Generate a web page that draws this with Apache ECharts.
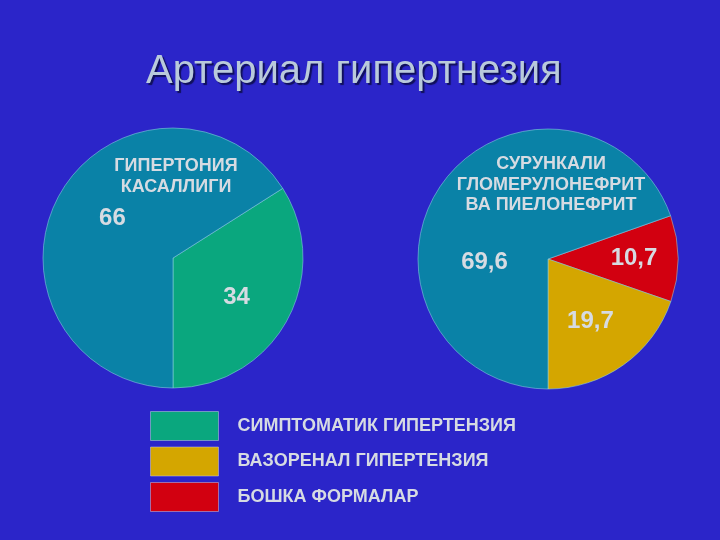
<!DOCTYPE html>
<html><head><meta charset="utf-8">
<script src="https://cdn.jsdelivr.net/npm/echarts@6/dist/echarts.min.js"></script>
<style>html,body{margin:0;padding:0;background:#2b25c9}#c{width:720px;height:540px}</style>
</head><body><div id="c"></div>
<script>
// Data
const titleText = 'Артериал гипертнезия';
const leftNames = ['СИМПТОМАТИК ГИПЕРТЕНЗИЯ', 'ГИПЕРТОНИЯ КАСАЛЛИГИ'];
const leftValues = [34, 66];
const leftLabels = ['34', '66'];
const rightNames = ['БОШКА ФОРМАЛАР', 'ВАЗОРЕНАЛ ГИПЕРТЕНЗИЯ', 'СУРУНКАЛИ ГЛОМЕРУЛОНЕФРИТ ВА ПИЕЛОНЕФРИТ'];
const rightValues = [10.7, 19.7, 69.6];
const rightLabels = ['10,7', '19,7', '69,6'];
const legendNames = ['СИМПТОМАТИК ГИПЕРТЕНЗИЯ', 'ВАЗОРЕНАЛ ГИПЕРТЕНЗИЯ', 'БОШКА ФОРМАЛАР'];
const leftCaption = ['ГИПЕРТОНИЯ', 'КАСАЛЛИГИ'];
const rightCaption = ['СУРУНКАЛИ', 'ГЛОМЕРУЛОНЕФРИТ', 'ВА ПИЕЛОНЕФРИТ'];

// Styles
const colors = {
  'СИМПТОМАТИК ГИПЕРТЕНЗИЯ': '#0aa77e',
  'ГИПЕРТОНИЯ КАСАЛЛИГИ': '#0a82a7',
  'БОШКА ФОРМАЛАР': '#d20010',
  'ВАЗОРЕНАЛ ГИПЕРТЕНЗИЯ': '#d4a600',
  'СУРУНКАЛИ ГЛОМЕРУЛОНЕФРИТ ВА ПИЕЛОНЕФРИТ': '#0a82a7'
};
const leftOffsets = [[4, 7], [-1, -7]];
const rightOffsets = [[18, 0], [3, 7], [-8, 43]];
const textColor = '#d6dbe2';
const font = 'Liberation Sans, Arial, sans-serif';

function sum(a){return a.reduce((s,v)=>s+v,0);}
function build(names, values, labels, offsets){
  return names.map((n,i)=>({
    name:n, value:values[i],
    itemStyle:{color:colors[n]},
    label:{formatter:labels[i], offset:offsets[i]}
  }));
}
// start angle so the last (teal) slice ends at 6 o'clock
const leftStart = -90 + 360 * leftValues[0] / sum(leftValues);
const rightStart = -90 + 360 * (rightValues[0] + rightValues[1]) / sum(rightValues);

const pieCommon = {
  type:'pie', radius:130, clockwise:true, silent:true,
  itemStyle:{borderColor:'rgba(140,210,225,0.55)', borderWidth:1},
  label:{show:true, position:'inside', color:textColor, fontFamily:font, fontWeight:'bold', fontSize:24},
  labelLine:{show:false}, emphasis:{disabled:true}
};

const chart = echarts.init(document.getElementById('c'), null, {renderer:'canvas'});
chart.setOption({
  backgroundColor:'#2b25c9',
  animation:false,
  title:{
    text:titleText, left:141, top:47,
    textStyle:{color:'#b9cadb', fontFamily:font, fontWeight:'normal', fontSize:40,
      textShadowColor:'#10105a', textShadowOffsetX:2, textShadowOffsetY:2, textShadowBlur:1}
  },
  legend:{
    orient:'vertical', left:150, top:411, padding:0,
    data:legendNames, icon:'rect', itemWidth:68, itemHeight:29, itemGap:5.5,
    itemStyle:{borderColor:'rgba(200,200,230,0.5)', borderWidth:1},
    textStyle:{color:textColor, fontFamily:font, fontWeight:'bold', fontSize:18, padding:[0,0,0,14]},
    selectedMode:false
  },
  series:[
    Object.assign({}, pieCommon, {center:[173,258], startAngle:leftStart,
      data:build(leftNames, leftValues, leftLabels, leftOffsets)}),
    Object.assign({}, pieCommon, {center:[548,259], startAngle:rightStart,
      data:build(rightNames, rightValues, rightLabels, rightOffsets)})
  ],
  graphic:[
    {type:'text', z:100, x:176, y:177, style:{text:leftCaption.join('\n'), fill:textColor, font:'bold 18px '+font,
      align:'center', verticalAlign:'middle', lineHeight:21}},
    {type:'text', z:100, x:551, y:185, style:{text:rightCaption.join('\n'), fill:textColor, font:'bold 18px '+font,
      align:'center', verticalAlign:'middle', lineHeight:20.5}}
  ]
});
</script></body></html>
